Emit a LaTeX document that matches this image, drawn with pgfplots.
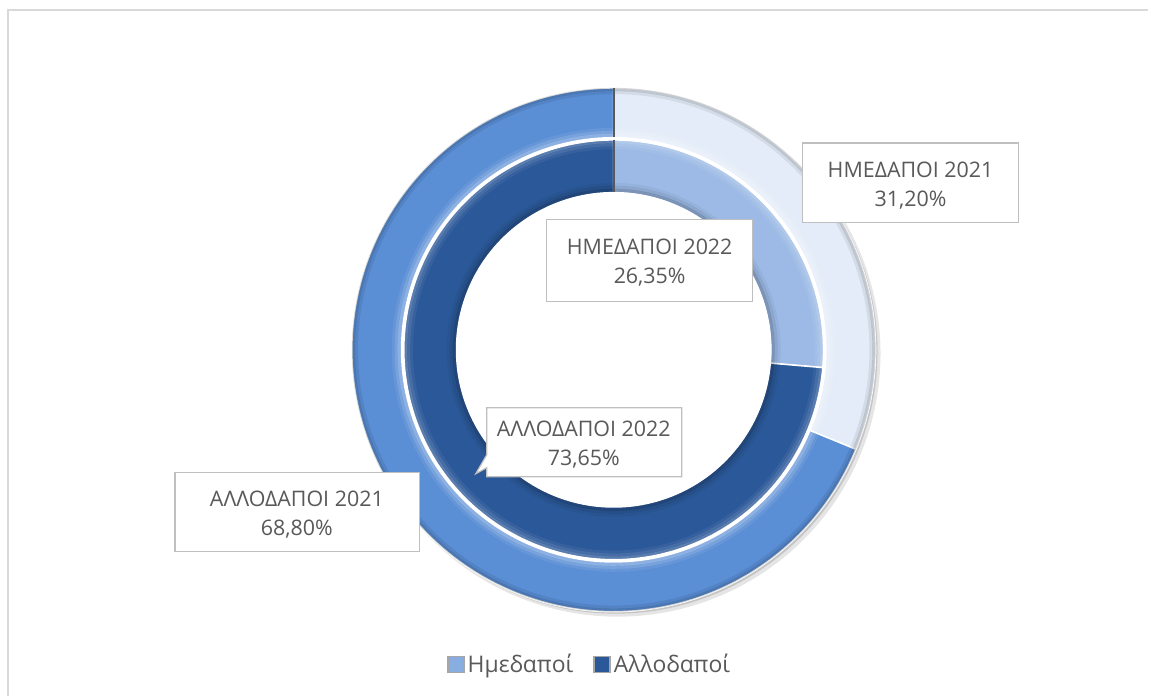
\documentclass[border=0pt]{standalone}
\usepackage{pgfplots}
\pgfplotsset{compat=1.18}
\usepackage{pgfplotstable}
\usepackage{fontspec}
\setmainfont{Open Sans}
\definecolor{hm21}{HTML}{E3ECF8}
\definecolor{al21}{HTML}{5A8ED5}
\definecolor{hm22}{HTML}{9CBAE5}
\definecolor{al22}{HTML}{2B5898}
\definecolor{txt}{HTML}{595959}
\definecolor{boxc}{HTML}{BFBFBF}
\definecolor{frame}{HTML}{D9D9D9}

\pgfplotstableread{
year hm al
2021 31.20 68.80
2022 26.35 73.65
}\shares
\pgfplotstablegetelem{0}{hm}\of\shares \let\hmA\pgfplotsretval
\pgfplotstablegetelem{1}{hm}\of\shares \let\hmB\pgfplotsretval
\pgfmathsetmacro\angA{90-3.6*\hmA}
\pgfmathsetmacro\angB{90-3.6*\hmB}

\def\cx{614}\def\cy{350}
\def\Ro{262}\def\Rg{213}\def\Ri{210}\def\Rh{158}

% circle stroke: radius, colour, opacity
\newcommand\ringline[3]{%
  \addplot[forget plot, draw=#2, draw opacity=#3, line width=3.2bp, domain=0:360, samples=160, variable=\t]
    ({\cx+(#1)*cos(\t)},{\cy-(#1)*sin(\t)});}

\begin{document}
\begin{tikzpicture}
\begin{axis}[
  width=1149bp, height=696bp, scale only axis,
  xmin=0, xmax=1149, ymin=0, ymax=696, y dir=reverse,
  hide axis, clip=false,
  legend columns=2,
  legend style={at={(0.5135,0.045)}, anchor=center, draw=none, fill=none,
    font=\fontsize{23}{26}\selectfont, text=txt,
    /tikz/every odd column/.append style={column sep=1bp},
    /tikz/every even column/.append style={column sep=18bp}},
  legend image code/.code={\draw[#1] (0bp,-8bp) rectangle (16bp,8bp);},
  ring/.style={forget plot, draw=white, line width=1.5bp, variable=\t},
]
\fill[white] (axis cs:0,0) rectangle (axis cs:1149,696);
\draw[frame, line width=1.2bp] (axis cs:8,696) -- (axis cs:8,10) -- (axis cs:1149,10);

% soft drop shadow of the outer ring
\addplot[forget plot, fill=black, fill opacity=0.10, draw=none, domain=0:360, samples=200, variable=\t]
  ({\cx+4+(\Ro+1)*cos(\t)},{\cy+4-(\Ro+1)*sin(\t)}) -- cycle;
\addplot[forget plot, fill=black, fill opacity=0.14, draw=none, domain=0:360, samples=200, variable=\t]
  ({\cx+2+\Ro*cos(\t)},{\cy+2-\Ro*sin(\t)}) -- cycle;
% outer ring (2021)
\addplot[ring, fill=hm21, domain=\angA:90, samples=80]
  ({\cx+\Ro*cos(\t)},{\cy-\Ro*sin(\t)}) -- (axis cs:\cx,\cy) -- cycle;
\addplot[ring, fill=al21, domain=-270:\angA, samples=200]
  ({\cx+\Ro*cos(\t)},{\cy-\Ro*sin(\t)}) -- (axis cs:\cx,\cy) -- cycle;
% bevel of outer ring
\ringline{\Rg+1.5}{white}{0.30}
\ringline{\Rg+4.5}{white}{0.18}
\ringline{\Rg+7.5}{white}{0.08}
\ringline{\Ro-1.5}{black}{0.16}
\ringline{\Ro-4.5}{black}{0.07}
% gap
\addplot[forget plot, fill=white, draw=none, domain=0:360, samples=200, variable=\t]
  ({\cx+\Rg*cos(\t)},{\cy-\Rg*sin(\t)}) -- cycle;
% inner ring (2022)
\addplot[ring, fill=hm22, domain=\angB:90, samples=80]
  ({\cx+\Ri*cos(\t)},{\cy-\Ri*sin(\t)}) -- (axis cs:\cx,\cy) -- cycle;
\addplot[ring, fill=al22, domain=-270:\angB, samples=200]
  ({\cx+\Ri*cos(\t)},{\cy-\Ri*sin(\t)}) -- (axis cs:\cx,\cy) -- cycle;
% bevel of inner ring
\ringline{\Ri-1.5}{white}{0.22}
\ringline{\Ri-4.5}{white}{0.13}
\ringline{\Ri-7.5}{white}{0.06}
\ringline{\Rh+1.5}{black}{0.20}
\ringline{\Rh+4.5}{black}{0.10}
\ringline{\Rh+7.5}{black}{0.04}
% hole
\addplot[forget plot, fill=white, draw=none, domain=0:360, samples=200, variable=\t]
  ({\cx+\Rh*cos(\t)},{\cy-\Rh*sin(\t)}) -- cycle;

\draw[black!65, line width=1.8bp] (axis cs:\cx,\cy-\Ro) -- (axis cs:\cx,\cy-\Rg);
\draw[black!65, line width=1.8bp] (axis cs:\cx,\cy-\Ri) -- (axis cs:\cx,\cy-\Rh);

% labels
\tikzset{lab/.style={txt, align=center, font=\fontsize{21.5}{29}\selectfont}}
\draw[boxc, fill=white, line width=1.2bp] (axis cs:803,143) rectangle (axis cs:1019,223);
\node[lab] at (axis cs:911,186) {ΗΜΕΔΑΠΟΙ 2021\\31,20\%};
\draw[boxc, fill=white, line width=1.2bp] (axis cs:547,220) rectangle (axis cs:753,302);
\node[lab] at (axis cs:650,263) {ΗΜΕΔΑΠΟΙ 2022\\26,35\%};
\draw[boxc, fill=white, line width=1.2bp] (axis cs:487,408) -- (axis cs:682,408) -- (axis cs:682,477) -- (axis cs:487,477) -- (axis cs:487,468) -- (axis cs:476,474) -- (axis cs:487,455) -- cycle;
\node[lab] at (axis cs:584,445) {ΑΛΛΟΔΑΠΟΙ 2022\\73,65\%};
\draw[boxc, fill=white, line width=1.2bp] (axis cs:175,473) rectangle (axis cs:420,552);
\node[lab] at (axis cs:297,515) {ΑΛΛΟΔΑΠΟΙ 2021\\68,80\%};

\addlegendimage{fill=hm22!70!al21, draw=gray!70, line width=1.5bp}
\addlegendentry{Ημεδαποί}
\addlegendimage{fill=al22, draw=gray!70, line width=1.5bp}
\addlegendentry{Αλλοδαποί}
\end{axis}
\end{tikzpicture}
\end{document}
